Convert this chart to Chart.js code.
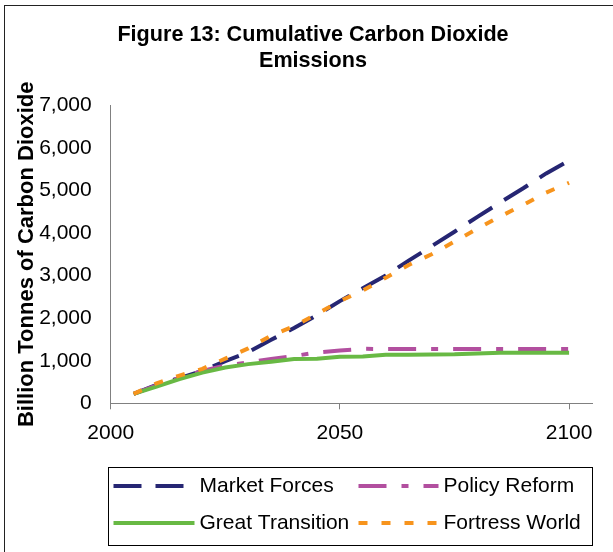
<!DOCTYPE html>
<html><head><meta charset="utf-8">
<script src="https://cdn.jsdelivr.net/npm/chart.js@4/dist/chart.umd.min.js"></script>
<style>html,body{margin:0;padding:0;background:#fff}</style>
</head><body>
<canvas id="c" width="613" height="552"></canvas>
<script>
const chartTitle = ['Figure 13: Cumulative Carbon Dioxide', 'Emissions'];
const yAxisTitle = 'Billion Tonnes of Carbon Dioxide';
const xTickValues = [2000, 2050, 2100];
const years = [2005,2010,2015,2020,2025,2030,2035,2040,2045,2050,2055,2060,2065,2070,2075,2080,2085,2090,2095,2100];
const marketForces    = [220,430,590,760,990,1200,1490,1770,2070,2400,2700,3000,3350,3690,4030,4380,4720,5050,5400,5700];
const policyReform    = [220,420,600,760,890,960,1040,1110,1195,1240,1280,1275,1275,1275,1275,1275,1275,1275,1275,1275];
const greatTransition = [220,390,570,720,840,920,975,1040,1045,1095,1100,1140,1140,1145,1150,1170,1190,1190,1190,1190];
const fortressWorld   = [220,470,650,810,1050,1290,1590,1810,2100,2400,2650,2950,3250,3500,3800,4100,4390,4660,4950,5180];
const seriesNames = ['Market Forces', 'Policy Reform', 'Great Transition', 'Fortress World'];

const FONT = "'Liberation Sans', Arial, sans-serif";
const pts = arr => years.map((y, i) => ({x: y, y: arr[i]}));

const styles = [
  {color: '#262673', dash: [28, 14], width: 4, order: 3},
  {color: '#b24f9f', dash: [28, 15, 7, 15], width: 4, order: 2},
  {color: '#68b944', dash: [], width: 4, order: 1},
  {color: '#f7941d', dash: [9, 14], width: 4, order: 0}
];
const seriesData = [marketForces, policyReform, greatTransition, fortressWorld];

const frameAndLegend = {
  id: 'frameAndLegend',
  afterDraw(chart) {
    const ctx = chart.ctx;
    const ca = chart.chartArea;
    ctx.save();
    ctx.strokeStyle = '#222';
    ctx.lineWidth = 1;
    ctx.strokeRect(4.5, 5.5, 700, 700);
    const left = Math.round(ca.left - 2.7) + 0.5;
    const right = Math.round(ca.right) + 0.5;
    const top = chart.height - 85 + 0.5;
    const bottom = chart.height - 7 + 0.5;
    ctx.strokeStyle = '#000';
    ctx.strokeRect(left, top, right - left, bottom - top);
    const rows = [top + 18, top + 55];
    const cols = [{lx: left + 5, lw: 81, tx: left + 91}, {lx: left + 250, lw: 80, tx: left + 335}];
    const place = [[0,0],[0,1],[1,0],[1,1]];
    chart.data.datasets.forEach((ds, i) => {
      const [r, c] = place[i];
      const y = Math.round(rows[r]);
      const col = cols[c];
      ctx.beginPath();
      ctx.strokeStyle = ds.borderColor;
      ctx.lineWidth = ds.borderWidth;
      ctx.lineCap = 'butt';
      ctx.setLineDash(ds.borderDash || []);
      ctx.moveTo(col.lx, y);
      ctx.lineTo(col.lx + col.lw, y);
      ctx.stroke();
      ctx.setLineDash([]);
      ctx.fillStyle = '#000';
      ctx.font = '21px ' + FONT;
      ctx.textBaseline = 'middle';
      ctx.textAlign = 'left';
      ctx.fillText(ds.label, col.tx, y);
    });
    ctx.restore();
  }
};

new Chart(document.getElementById('c'), {
  type: 'line',
  data: {
    datasets: seriesNames.map((name, i) => ({
      label: name,
      data: pts(seriesData[i]),
      borderColor: styles[i].color,
      backgroundColor: styles[i].color,
      borderDash: styles[i].dash,
      borderWidth: styles[i].width,
      borderCapStyle: 'butt',
      pointRadius: 0,
      pointHoverRadius: 0,
      tension: 0,
      fill: false,
      order: styles[i].order
    }))
  },
  options: {
    responsive: false,
    animation: false,
    devicePixelRatio: 1,
    layout: {padding: {left: 34, right: 21, top: 0, bottom: 100}},
    plugins: {
      legend: {display: false},
      tooltip: {enabled: false},
      title: {
        display: true,
        text: chartTitle,
        color: '#000',
        font: {family: FONT, size: 21.6, weight: 'bold', lineHeight: 1.18},
        padding: {top: 22.5, bottom: 31.8}
      }
    },
    scales: {
      x: {
        type: 'linear',
        min: 2000,
        max: 2105,
        afterBuildTicks: s => { s.ticks = xTickValues.map(v => ({value: v})); },
        afterFit: s => { s.height = 48.7; },
        ticks: {
          color: '#000',
          font: {family: FONT, size: 21},
          padding: 11,
          maxRotation: 0,
          callback: v => String(v)
        },
        grid: {display: true, drawOnChartArea: false, drawTicks: true, tickLength: 6, color: '#808080', lineWidth: 1},
        border: {display: true, color: '#808080', width: 1}
      },
      y: {
        min: 0,
        max: 7000,
        afterFit: s => { s.width = 76.7; },
        ticks: {
          stepSize: 1000,
          color: '#000',
          font: {family: FONT, size: 21},
          padding: 19,
          callback: v => v.toLocaleString('en-US')
        },
        grid: {display: true, drawOnChartArea: false, drawTicks: false, color: '#808080'},
        border: {display: true, color: '#808080', width: 1},
        title: {
          display: true,
          text: yAxisTitle,
          color: '#000',
          font: {family: FONT, size: 22, weight: 'bold', lineHeight: 1.2},
          padding: {top: -20, bottom: 0}
        }
      }
    }
  },
  plugins: [frameAndLegend]
});
</script>
</body></html>
